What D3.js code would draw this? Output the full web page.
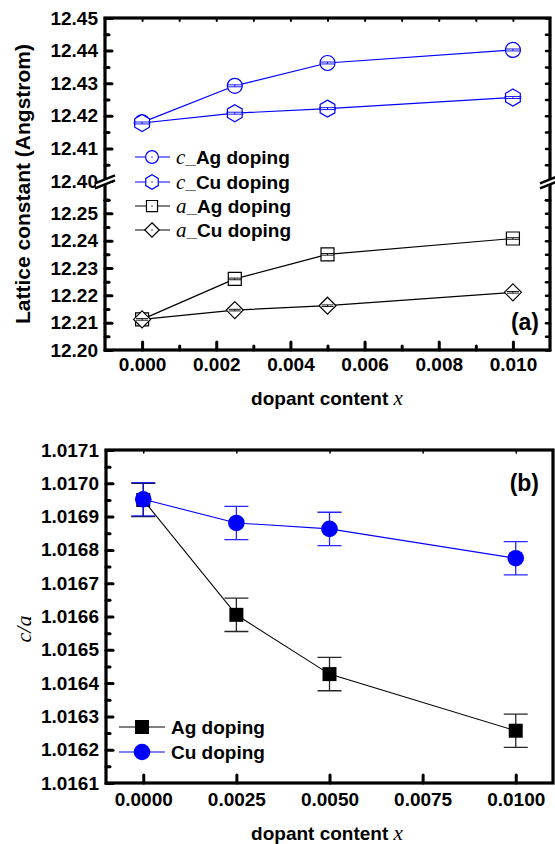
<!DOCTYPE html>
<html>
<head>
<meta charset="utf-8">
<script src="https://cdn.jsdelivr.net/npm/d3@7"></script>
<style>
body { margin: 0; background: #fff; }
svg text { font-family: "Liberation Sans", Arial, sans-serif; font-weight: bold; fill: #000; }
.it { font-family: "Liberation Serif", "Times New Roman", serif; font-style: italic; font-weight: normal; }
</style>
</head>
<body>
<div id="chart"></div>
<script>
////// data
var dopant = [0, 0.0025, 0.005, 0.01];

// panel (a) lattice constants (Angstrom)
var cAg = [12.4180, 12.4292, 12.4362, 12.4402];
var cCu = [12.4178, 12.4208, 12.4222, 12.4256];
var aAg = [12.2112, 12.2260, 12.2350, 12.2408];
var aCu = [12.2112, 12.2146, 12.2162, 12.2211];
var latticeErr = 0.0003;

// panel (b) c/a ratio
var ratioAg = [1.016950, 1.016605, 1.016427, 1.016257];
var ratioCu = [1.016952, 1.016881, 1.016863, 1.016775];
var ratioErr = 0.00005;

// ticks
var latticeTicks = [12.20, 12.21, 12.22, 12.23, 12.24, 12.25, 12.40, 12.41, 12.42, 12.43, 12.44, 12.45];
var ratioTicks = [1.0161, 1.0162, 1.0163, 1.0164, 1.0165, 1.0166, 1.0167, 1.0168, 1.0169, 1.0170, 1.0171];
var xTicksA = [0, 0.002, 0.004, 0.006, 0.008, 0.010];
var xTicksB = [0, 0.0025, 0.005, 0.0075, 0.010];

var blue = "#0000ff";

var svg = d3.select("#chart").append("svg")
    .attr("width", 555)
    .attr("height", 844);

// marker shapes, centred on 0,0
function shapePath(shape, r) {
  if (shape == "circle") return d3.symbol(d3.symbolCircle, Math.PI * r * r)();
  if (shape == "square") return "M" + (-r) + "," + (-r) + "H" + r + "V" + r + "H" + (-r) + "Z";
  if (shape == "diamond") return "M0," + (-r) + "L" + r + ",0L0," + r + "L" + (-r) + ",0Z";
  if (shape == "hex") {
    var pts = d3.range(6).map(function(i) {
      var a = (-90 + 60 * i) * Math.PI / 180;
      return [r * Math.cos(a), r * Math.sin(a)];
    });
    return "M" + pts.join("L") + "Z";
  }
}

function styleTicks(g, width) {
  g.select(".domain").remove();
  g.selectAll(".tick line").attr("stroke", "#000").attr("stroke-width", width).attr("stroke-linecap", "round");
  g.selectAll(".tick text").style("font-size", "19px");
}

function breakMark(x, y) {
  svg.append("path")
    .attr("d", "M" + (x - 9) + "," + (y + 2) + "L" + (x + 9) + "," + (y - 5) + "L" + (x + 9) + "," + (y) + "L" + (x - 9) + "," + (y + 7) + "Z")
    .attr("fill", "#fff");
  [0, 5].forEach(function(o) {
    svg.append("line")
      .attr("x1", x - 10).attr("y1", y + 2.4 + o)
      .attr("x2", x + 10).attr("y2", y - 5.6 + o)
      .attr("stroke", "#000").attr("stroke-width", 2.5);
  });
}

//////////////////////////////////////
// panel (a)
//////////////////////////////////////
var xA = d3.scaleLinear().domain([-0.001, 0.011]).range([105, 550]);
var yA = d3.scaleLinear().domain([12.20, 12.26, 12.40, 12.45]).range([350, 186, 181, 18]);

var gA = svg.append("g");

var minorA = latticeTicks.map(function(d) { return d + 0.005; }).filter(function(d) { return d < 12.45; });
var minorXA = xTicksA.slice(0, -1).map(function(d) { return d + 0.001; });

gA.append("g").attr("transform", "translate(105,0)")
  .call(d3.axisLeft(yA).tickValues(latticeTicks).tickFormat(d3.format(".2f")).tickSizeInner(-7).tickSizeOuter(0).tickPadding(7))
  .call(styleTicks, 3);
gA.append("g").attr("transform", "translate(105,0)")
  .call(d3.axisLeft(yA).tickValues(minorA.concat([12.255])).tickFormat("").tickSizeInner(-4).tickSizeOuter(0))
  .call(styleTicks, 3);
gA.append("g").attr("transform", "translate(550,0)")
  .call(d3.axisRight(yA).tickValues(latticeTicks.concat(minorA, [12.255])).tickFormat("").tickSizeInner(-4).tickSizeOuter(0))
  .call(styleTicks, 2.5);
gA.append("g").attr("transform", "translate(0,350)")
  .call(d3.axisBottom(xA).tickValues(xTicksA).tickFormat(d3.format(".3f")).tickSizeInner(-8).tickSizeOuter(0).tickPadding(8))
  .call(styleTicks, 3);
gA.append("g").attr("transform", "translate(0,350)")
  .call(d3.axisBottom(xA).tickValues(minorXA).tickFormat("").tickSizeInner(-4).tickSizeOuter(0))
  .call(styleTicks, 3);
gA.append("g").attr("transform", "translate(0,18)")
  .call(d3.axisTop(xA).tickValues(xTicksA.concat(minorXA)).tickFormat("").tickSizeInner(-3).tickSizeOuter(0))
  .call(styleTicks, 2);

gA.append("rect")
  .attr("x", 105).attr("y", 18).attr("width", 445).attr("height", 332)
  .attr("fill", "none").attr("stroke", "#000").attr("stroke-width", 3.2);

breakMark(105, 181);
breakMark(550, 181);

var seriesA = [
  {sym: "c", name: "_Ag doping", values: cAg, color: blue, shape: "circle", r: 7.5},
  {sym: "c", name: "_Cu doping", values: cCu, color: blue, shape: "hex", r: 8.5},
  {sym: "a", name: "_Ag doping", values: aAg, color: "#000", shape: "square", r: 6.5},
  {sym: "a", name: "_Cu doping", values: aCu, color: "#000", shape: "diamond", r: 8.5}
];

var line = d3.line();
seriesA.forEach(function(s) {
  var pts = s.values.map(function(v, i) { return [xA(dopant[i]), yA(v)]; });
  gA.append("path").attr("d", line(pts)).attr("fill", "none").attr("stroke", s.color).attr("stroke-width", 1.2);
  pts.forEach(function(p, i) {
    gA.append("path").attr("transform", "translate(" + p[0] + "," + p[1] + ")")
      .attr("d", shapePath(s.shape, s.r)).attr("fill", "#fff").attr("stroke", s.color).attr("stroke-width", 1.2);
    var hi = yA(s.values[i] + latticeErr), lo = yA(s.values[i] - latticeErr);
    var w = s.shape == "diamond" ? 6 : s.r;
    gA.append("path")
      .attr("d", "M" + (p[0] - w) + "," + hi + "H" + (p[0] + w) + "M" + (p[0] - w) + "," + lo + "H" + (p[0] + w) + "M" + p[0] + "," + hi + "V" + lo)
      .attr("stroke", s.color).attr("stroke-width", 0.9).attr("fill", "none");
  });
});

// legend (a)
var legA = gA.selectAll(".legA").data(seriesA).enter().append("g")
  .attr("transform", function(d, i) { return "translate(0," + [157, 182, 206, 230][i] + ")"; });
legA.append("line").attr("x1", 135).attr("x2", 170).attr("y1", 0).attr("y2", 0)
  .attr("stroke", function(d) { return d.color; }).attr("stroke-width", 1.2);
legA.append("path").attr("transform", "translate(152,0)")
  .attr("d", function(d) { return shapePath(d.shape, d.r * 0.85); })
  .attr("fill", "#fff").attr("stroke", function(d) { return d.color; }).attr("stroke-width", 1.2);
legA.append("circle").attr("cx", 152).attr("cy", 0).attr("r", 0.7)
  .attr("fill", function(d) { return d.color; });
var legAText = legA.append("text").attr("x", 176).attr("y", 7).style("font-size", "19px");
legAText.append("tspan").attr("class", "it").style("font-size", "21px").text(function(d) { return d.sym; });
legAText.append("tspan").text(function(d) { return d.name; });

gA.append("text").attr("x", 539).attr("y", 330).attr("text-anchor", "end").style("font-size", "23px").text("(a)");

gA.append("text")
  .attr("transform", "translate(30,184) rotate(-90)")
  .attr("text-anchor", "middle").style("font-size", "21px")
  .text("Lattice constant (Angstrom)");

var xtA = gA.append("text").attr("x", 327).attr("y", 405).attr("text-anchor", "middle").style("font-size", "19px");
xtA.append("tspan").text("dopant content ");
xtA.append("tspan").attr("class", "it").style("font-size", "21px").text("x");

//////////////////////////////////////
// panel (b)
//////////////////////////////////////
var xB = d3.scaleLinear().domain([-0.001, 0.011]).range([106, 553]);
var yB = d3.scaleLinear().domain([1.0161, 1.0171]).range([783, 450]);

var gB = svg.append("g");
var minorB = ratioTicks.slice(0, -1).map(function(d) { return d + 0.00005; });

gB.append("g").attr("transform", "translate(106,0)")
  .call(d3.axisLeft(yB).tickValues(ratioTicks).tickFormat(d3.format(".4f")).tickSizeInner(-7).tickSizeOuter(0).tickPadding(7))
  .call(styleTicks, 3);
gB.append("g").attr("transform", "translate(106,0)")
  .call(d3.axisLeft(yB).tickValues(minorB).tickFormat("").tickSizeInner(-4).tickSizeOuter(0))
  .call(styleTicks, 3);
gB.append("g").attr("transform", "translate(0,783)")
  .call(d3.axisBottom(xB).tickValues(xTicksB).tickFormat(d3.format(".4f")).tickSizeInner(-8).tickSizeOuter(0).tickPadding(10))
  .call(styleTicks, 3);
gB.append("g").attr("transform", "translate(0,450)")
  .call(d3.axisTop(xB).tickValues(xTicksB).tickFormat("").tickSizeInner(-3).tickSizeOuter(0))
  .call(styleTicks, 1.5);

gB.append("rect")
  .attr("x", 106).attr("y", 450).attr("width", 447).attr("height", 333)
  .attr("fill", "none").attr("stroke", "#000").attr("stroke-width", 3.2);

var seriesB = [
  {name: "Ag doping", values: ratioAg, color: "#000", shape: "square", r: 7},
  {name: "Cu doping", values: ratioCu, color: blue, shape: "circle", r: 8.3}
];

seriesB.forEach(function(s) {
  var pts = s.values.map(function(v, i) { return [xB(dopant[i]), yB(v)]; });
  gB.append("path").attr("d", line(pts)).attr("fill", "none").attr("stroke", s.color).attr("stroke-width", 1.1);
});
seriesB.forEach(function(s) {
  s.values.forEach(function(v, i) {
    var x = xB(dopant[i]), hi = yB(v + ratioErr), lo = yB(v - ratioErr);
    gB.append("path")
      .attr("d", "M" + (x - 12) + "," + hi + "H" + (x + 12) + "M" + (x - 12) + "," + lo + "H" + (x + 12) + "M" + x + "," + hi + "V" + lo)
      .attr("stroke", s.color).attr("stroke-width", 1.3).attr("stroke-opacity", 0.85).attr("fill", "none");
    gB.append("path").attr("transform", "translate(" + x + "," + yB(v) + ")")
      .attr("d", shapePath(s.shape, s.r)).attr("fill", s.color);
  });
});

// legend (b)
var legB = gB.selectAll(".legB").data(seriesB).enter().append("g")
  .attr("transform", function(d, i) { return "translate(0," + [727, 752][i] + ")"; });
legB.append("line").attr("x1", 119).attr("x2", 165).attr("y1", 0).attr("y2", 0)
  .attr("stroke", function(d) { return d.color; }).attr("stroke-width", 1.2);
legB.append("path").attr("transform", "translate(142,0)")
  .attr("d", function(d) { return shapePath(d.shape, d.r); })
  .attr("fill", function(d) { return d.color; });
legB.append("text").attr("x", 171).attr("y", 7).style("font-size", "19px").text(function(d) { return d.name; });

gB.append("text").attr("x", 539).attr("y", 491).attr("text-anchor", "end").style("font-size", "23px").text("(b)");

gB.append("text")
  .attr("transform", "translate(31,629) rotate(-90)")
  .attr("text-anchor", "middle").attr("class", "it").style("font-size", "22px")
  .text("c/a");

var xtB = gB.append("text").attr("x", 327).attr("y", 840).attr("text-anchor", "middle").style("font-size", "19px");
xtB.append("tspan").text("dopant content ");
xtB.append("tspan").attr("class", "it").style("font-size", "21px").text("x");
</script>
</body>
</html>
